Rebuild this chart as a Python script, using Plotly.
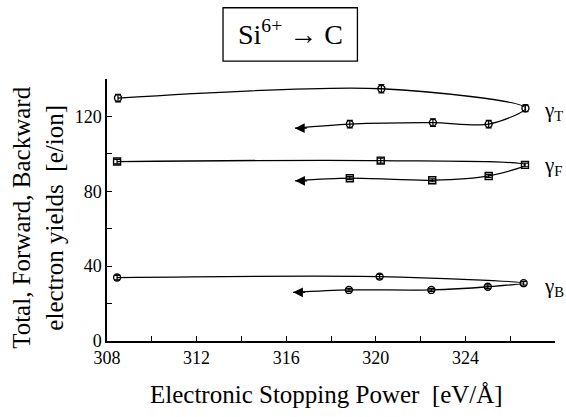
import plotly.graph_objects as go

# ---- data ----
x_T = [308.49, 320.25, 326.68, 325.04, 322.55, 318.84]
y_T = [129.8, 134.8, 124.4, 115.9, 116.7, 115.9]
e_T = [2.0, 2.2, 1.8, 2.0, 2.0, 2.0]

x_F = [308.45, 320.22, 326.66, 325.04, 322.52, 318.84]
y_F = [95.9, 96.4, 94.1, 88.2, 85.9, 87.0]
e_F = [1.2, 1.3, 1.0, 0.8, 0.8, 0.8]

x_B = [308.45, 320.17, 326.60, 325.00, 322.48, 318.80]
y_B = [33.9, 34.4, 30.9, 29.0, 27.3, 27.3]
e_B = [1.2, 1.2, 1.0, 1.0, 0.8, 0.8]

# arrow tips (end of each hysteresis curve)
arrow_x = [316.39, 316.40, 316.31]
arrow_y = [113.7, 85.6, 26.0]

series_names = ["γ<sub>T</sub>", "γ<sub>F</sub>", "γ<sub>B</sub>"]
x_ticks = [308, 310, 312, 314, 316, 318, 320, 322, 324, 326, 328]
x_ticktext = ["308", "", "312", "", "316", "", "320", "", "324", "", "328"]
y_ticks = [0, 20, 40, 60, 80, 100, 120, 140]
y_ticktext = ["0", "", "40", "", "80", "", "120", ""]

FONT = "Liberation Serif, Times New Roman, serif"

fig = go.Figure()

series = [
    (x_T, y_T, e_T, "circle-open"),
    (x_F, y_F, e_F, "square-open"),
    (x_B, y_B, e_B, "circle-open"),
]

for i, (xs, ys, es, sym) in enumerate(series):
    # smooth curve through points, continuing to the arrow tip
    fig.add_trace(go.Scatter(
        x=xs + [arrow_x[i]], y=ys + [arrow_y[i]],
        mode="lines", line=dict(color="black", width=1.3, shape="spline", smoothing=0.85),
        showlegend=False, hoverinfo="skip"))
    fig.add_trace(go.Scatter(
        x=xs, y=ys, mode="markers",
        marker=dict(symbol=sym, size=7, color="black", line=dict(width=1.4, color="black")),
        error_y=dict(type="data", array=es, visible=True, color="black", thickness=1.2, width=3),
        showlegend=False, hoverinfo="skip"))

annotations = []
# arrow heads
for i in range(3):
    annotations.append(dict(
        x=arrow_x[i], y=arrow_y[i], ax=arrow_x[i] + 0.6, ay=arrow_y[i],
        xref="x", yref="y", axref="x", ayref="y",
        text="", showarrow=True, arrowhead=2, arrowsize=1.5, arrowwidth=1.3,
        arrowcolor="black"))

# series labels at right
label_y = [123.0, 93.5, 29.0]
for i in range(3):
    annotations.append(dict(
        x=327.4, y=label_y[i], xref="x", yref="y", xanchor="left", yanchor="middle",
        text=series_names[i], showarrow=False,
        font=dict(family=FONT, size=21, color="black")))

# title in box
annotations.append(dict(
    x=0.4096, y=1.178, xref="paper", yref="paper", xanchor="center", yanchor="middle",
    text="Si<sup>6+</sup> → C", showarrow=False,
    font=dict(family=FONT, size=28, color="black")))

# axis titles
annotations.append(dict(
    x=-0.154, y=0.47, xref="paper", yref="paper", xanchor="center", yanchor="middle",
    text="Total, Forward, Backward<br>electron yields  [e/ion]", textangle=-90,
    showarrow=False, font=dict(family=FONT, size=25, color="black")))
annotations.append(dict(
    x=0.489, y=-0.206, xref="paper", yref="paper", xanchor="center", yanchor="middle",
    text="Electronic Stopping Power  [eV/Å]", showarrow=False,
    font=dict(family=FONT, size=25, color="black")))

fig.update_layout(
    width=566, height=417,
    margin=dict(l=107, r=11, t=79, b=76),
    paper_bgcolor="white", plot_bgcolor="white",
    annotations=annotations,
    shapes=[dict(type="rect", xref="paper", yref="paper",
                 x0=0.259, x1=0.559, y0=1.068, y1=1.272,
                 line=dict(color="black", width=1.3))],
    xaxis=dict(range=[308, 328], tickmode="array", tickvals=x_ticks, ticktext=x_ticktext,
               ticks="inside", ticklen=5, tickwidth=1.2, tickcolor="black",
               showline=True, linecolor="black", linewidth=1.5, showgrid=False, zeroline=False,
               tickfont=dict(family=FONT, size=18, color="black")),
    yaxis=dict(range=[0, 140], tickmode="array", tickvals=y_ticks, ticktext=y_ticktext,
               ticks="inside", ticklen=5, tickwidth=1.2, tickcolor="black",
               showline=True, linecolor="black", linewidth=1.5, showgrid=False, zeroline=False,
               tickfont=dict(family=FONT, size=18, color="black")),
)

fig.write_html("out.html")
